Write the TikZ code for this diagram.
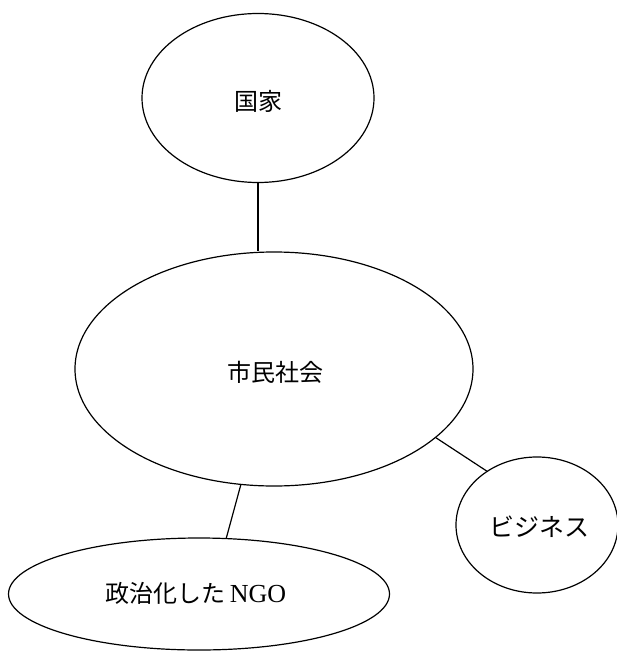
\documentclass[tikz,border=0pt]{standalone}
\usepackage{fontspec}
\setmainfont{Liberation Serif}
\newfontfamily\jp{Noto Sans CJK JP}
\usetikzlibrary{shapes.geometric}
\begin{document}
\begin{tikzpicture}[x=1pt,y=-1pt,
  oval/.style={draw, ellipse, line width=1.2pt, inner sep=0pt},
  lbl/.style={font=\fontsize{24}{24}\selectfont, inner sep=0pt},
  link/.style={line width=1.2pt}]
\useasboundingbox (0,0) rectangle (616,652);
\node[oval, minimum width=232pt, minimum height=169pt] (kokka) at (258,98) {};
\node[oval, minimum width=398pt, minimum height=234pt] (shimin) at (274,369) {};
\node[oval, minimum width=162pt, minimum height=136pt] (biz) at (537,525) {};
\node[oval, minimum width=381pt, minimum height=112pt] (ngo) at (199,594) {};
\node[lbl] (tkokka) at (258,101) {\jp 国家};
\node[lbl] (tshimin) at (275,372) {\jp 市民社会};
\node[lbl, font=\fontsize{25}{25}\selectfont] (tbiz) at (539,527) {\jp ビジネス};
\node[lbl] (tngo) at (196,593) {{\jp 政治化した}\,{\fontsize{26}{26}\selectfont NGO}};
\draw[link] (kokka.south) -- (kokka.south |- shimin.north);
\draw[link] (shimin.-23) -- (biz.133);
\draw[link] (shimin.-106) -- (ngo.64);
\end{tikzpicture}
\end{document}
